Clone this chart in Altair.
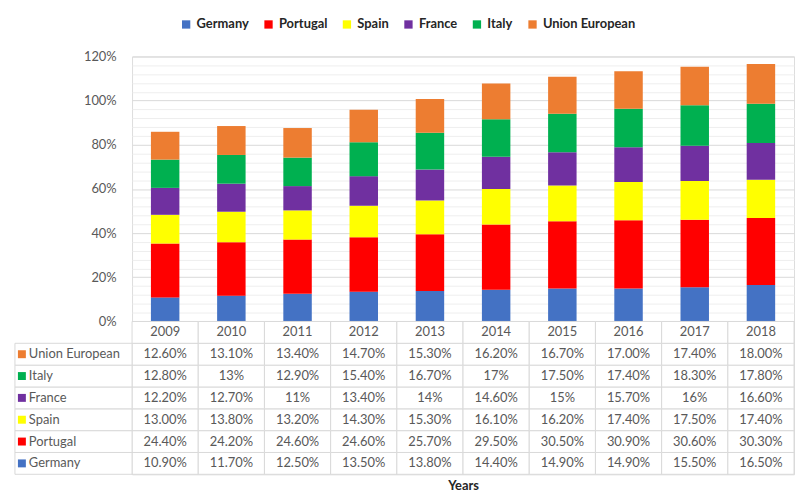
import altair as alt
import pandas as pd

years = ["2009", "2010", "2011", "2012", "2013", "2014", "2015", "2016", "2017", "2018"]
series = ["Germany", "Portugal", "Spain", "France", "Italy", "Union European"]
colors = ["#4472C4", "#FF0000", "#FFFF00", "#7030A0", "#00B050", "#ED7D31"]

germany = ["10.90%", "11.70%", "12.50%", "13.50%", "13.80%", "14.40%", "14.90%", "14.90%", "15.50%", "16.50%"]
portugal = ["24.40%", "24.20%", "24.60%", "24.60%", "25.70%", "29.50%", "30.50%", "30.90%", "30.60%", "30.30%"]
spain = ["13.00%", "13.80%", "13.20%", "14.30%", "15.30%", "16.10%", "16.20%", "17.40%", "17.50%", "17.40%"]
france = ["12.20%", "12.70%", "11%", "13.40%", "14%", "14.60%", "15%", "15.70%", "16%", "16.60%"]
italy = ["12.80%", "13%", "12.90%", "15.40%", "16.70%", "17%", "17.50%", "17.40%", "18.30%", "17.80%"]
union_european = ["12.60%", "13.10%", "13.40%", "14.70%", "15.30%", "16.20%", "16.70%", "17.00%", "17.40%", "18.00%"]

table_rows = ["Years", "Union European", "Italy", "France", "Spain", "Portugal", "Germany"]
y_ticks = [round(i * 0.04, 2) for i in range(31)]

FONT = "Lato"
GRAY = "#595959"
BORDER = "#d9d9d9"

values = {
    "Germany": germany, "Portugal": portugal, "Spain": spain,
    "France": france, "Italy": italy, "Union European": union_european,
}

rows = []
for si, s in enumerate(series):
    for yi, y in enumerate(years):
        label = values[s][yi]
        rows.append({"year": y, "series": s, "idx": si, "label": label,
                     "value": float(label.rstrip("%")) / 100})
df = pd.DataFrame(rows)

hdr = pd.DataFrame({"year": years, "series": "Years", "label": years})
table_df = pd.concat([df[["year", "series", "label"]], hdr], ignore_index=True)
label_df = pd.DataFrame({"series": series})

color_scale = alt.Scale(domain=series, range=colors)

bars = alt.Chart(df).mark_bar().encode(
    x=alt.X("year:N", sort=years, axis=None,
            scale=alt.Scale(paddingInner=0.57, paddingOuter=0.285)),
    y=alt.Y("value:Q", stack="zero",
            scale=alt.Scale(domain=[0, 1.2], nice=False),
            axis=alt.Axis(values=y_ticks, format=".0%", title=None,
                          labelExpr="round(datum.value*100) % 20 == 0 ? datum.label : ''",
                          ticks=False, domain=False, grid=True,
                          gridColor={"condition": {"test": "round(datum.value*100) % 20 == 0", "value": BORDER}, "value": "#eeeeee"},
                          labelColor=GRAY, labelFont=FONT, labelFontSize=13, labelPadding=16)),
    color=alt.Color("series:N", scale=color_scale, sort=series,
                    legend=alt.Legend(title=None, orient="none", legendX=48, legendY=-39,
                                      direction="horizontal", symbolType="square",
                                      symbolSize=70, symbolStrokeWidth=0,
                                      labelFont=FONT, labelFontWeight="bold",
                                      labelFontSize=13, labelColor="#262626",
                                      columnPadding=13)),
    order=alt.Order("idx:Q"),
).properties(width=667, height=267)

xt = alt.X("year:N", sort=years, scale=alt.Scale(paddingInner=0, paddingOuter=0),
           axis=alt.Axis(labels=False, ticks=False, domain=False, title="Years",
                         titleFont=FONT, titleFontWeight="bold", titleFontSize=13,
                         titleColor="#262626", titlePadding=5))
yt = alt.Y("series:N", sort=table_rows, scale=alt.Scale(domain=table_rows, paddingInner=0, paddingOuter=0),
           axis=None)

cells = alt.Chart(table_df).mark_rect(fill="white", stroke=BORDER, strokeWidth=1).encode(x=xt, y=yt)
texts = alt.Chart(table_df).mark_text(font=FONT, fontSize=13, color=GRAY).encode(
    x=alt.X("year:N", sort=years), y=alt.Y("series:N", sort=table_rows), text="label:N")
lcells = alt.Chart(label_df).mark_rect(fill="white", stroke=BORDER, strokeWidth=1).encode(
    x=alt.value(-118), x2=alt.value(0), y=alt.Y("series:N", sort=table_rows))
squares = alt.Chart(label_df).mark_square(size=64, opacity=1).encode(
    x=alt.value(-111), y=alt.Y("series:N", sort=table_rows),
    color=alt.Color("series:N", scale=color_scale, legend=None))
ltexts = alt.Chart(label_df).mark_text(font=FONT, fontSize=13, color=GRAY, align="left").encode(
    x=alt.value(-104), y=alt.Y("series:N", sort=table_rows), text="series:N")

table = alt.layer(cells, texts, lcells, squares, ltexts).properties(width=667, height=154)

chart = alt.vconcat(bars, table, spacing=0, bounds="flush").resolve_scale(
    x="independent", y="independent", color="independent"
).resolve_legend(color="independent").properties(
    padding={"left": 6, "top": 7, "right": 2, "bottom": 0}
).configure_view(stroke=None).configure(background="white")

chart.save("out.html", embed_options={"renderer": "svg", "actions": False})
